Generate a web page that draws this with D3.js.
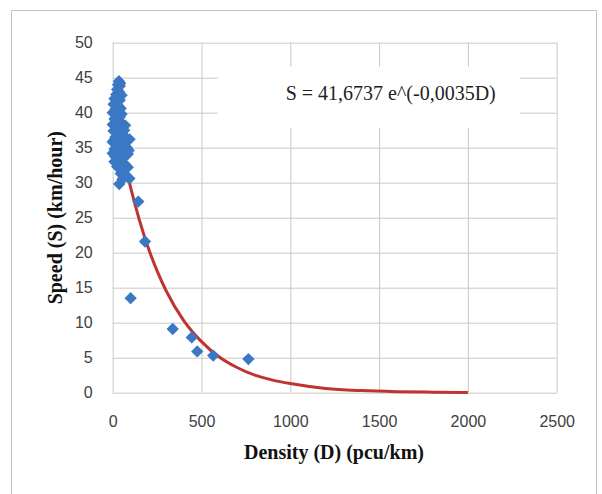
<!DOCTYPE html>
<html>
<head>
<meta charset="utf-8">
<script src="https://cdn.jsdelivr.net/npm/d3@7"></script>
<style>
  body { margin: 0; background: #fff; }
  .tick text { font-family: "Liberation Sans", Arial, sans-serif; font-size: 16px; fill: #404040; }
  .title { font-family: "Liberation Serif", "Times New Roman", serif; font-weight: bold; font-size: 20px; fill: #111; }
  .eq { font-family: "Liberation Serif", "Times New Roman", serif; font-size: 20px; fill: #222; }
</style>
</head>
<body>
<svg width="602" height="494"></svg>
<script>
// observed points, density (pcu/km) and speed (km/hour)
var densityD = [35, 30, 40, 25, 35, 20, 30, 10, 40, 25, 5, 35, 15, 30, 45, 0, 20, 40, 10, 30,
  50, 0, 20, 35, 5, 45, 25, 60, 15, 75, 35, 0, 55, 25, 80, 10, 45, 65, 0, 30,
  85, 15, 55, 40, 70, 25, 60, 45, 75, 55, 37, 94, 80, 50, 42, 5, 20, 65, 10, 50,
  95, 90, 70, 85, 144, 182, 101, 338, 445, 476, 566, 764];
var speedS = [44.5, 44.0, 43.8, 43.3, 43.0, 42.6, 42.2, 42.0, 41.8, 41.5, 41.2, 40.9, 40.5, 40.2, 40.6, 40.0, 39.7, 39.4, 39.1, 38.8,
  38.5, 38.3, 38.0, 37.7, 37.4, 37.2, 37.0, 36.8, 36.5, 36.3, 36.1, 35.8, 35.6, 35.3, 35.0, 34.8, 34.6, 34.3, 34.2, 34.0,
  34.1, 33.7, 33.4, 33.0, 32.6, 32.3, 31.8, 31.3, 31.0, 30.5, 29.8, 30.6, 36.0, 42.5, 44.2, 36.0, 35.0, 37.5, 33.0, 39.8,
  36.2, 34.6, 38.2, 32.2, 27.3, 21.6, 13.5, 9.1, 7.9, 5.9, 5.3, 4.8];

// exponential trendline
var trendD = [0, 50, 100, 150, 200, 250, 300, 400, 500, 600, 700, 800, 900, 1000, 1200, 1400, 1600, 1800, 2000];
var trendS = [41.7, 35.0, 29.4, 24.7, 20.7, 17.4, 14.6, 10.3, 7.3, 5.1, 3.6, 2.5, 1.8, 1.3, 0.6, 0.3, 0.15, 0.08, 0.04];

var xTicks = [0, 500, 1000, 1500, 2000, 2500];
var yTicks = [0, 5, 10, 15, 20, 25, 30, 35, 40, 45, 50];
var equationText = 'S = 41,6737 e^(-0,0035D)';
var xTitle = 'Density (D) (pcu/km)';
var yTitle = 'Speed (S) (km/hour)';

var svg = d3.select('svg');
var margin = {top: 42.7, left: 112.7};
var width = 444, height = 350;

// outer frame of the chart
svg.append('rect')
  .attr('x', 11.5).attr('y', 10.5)
  .attr('width', 585).attr('height', 495)
  .style('fill', 'none')
  .style('stroke', '#c4c4c4');

var x = d3.scaleLinear().domain([0, 2500]).range([0, width]);
var y = d3.scaleLinear().domain([0, 50]).range([height, 0]);

var g = svg.append('g')
  .attr('transform', 'translate(' + margin.left + ',' + margin.top + ')');

// grid lines (also serve as axes)
g.append('g')
  .attr('class', 'grid')
  .call(d3.axisLeft(y).tickValues(yTicks).tickSize(-width).tickFormat(''))
  .call(function(s) { s.select('.domain').remove(); })
  .selectAll('line').style('stroke', '#c8c8c8');

g.append('g')
  .attr('class', 'grid')
  .attr('transform', 'translate(0,' + height + ')')
  .call(d3.axisBottom(x).tickValues(xTicks).tickSize(-height).tickFormat(''))
  .call(function(s) { s.select('.domain').remove(); })
  .selectAll('line').style('stroke', '#c8c8c8');

// tick labels
g.append('g')
  .attr('transform', 'translate(-17,0)')
  .call(d3.axisLeft(y).tickValues(yTicks).tickSize(0).tickFormat(d3.format('d')))
  .call(function(s) { s.select('.domain').remove(); });

g.append('g')
  .attr('transform', 'translate(0,' + (height + 20) + ')')
  .call(d3.axisBottom(x).tickValues(xTicks).tickSize(0).tickFormat(d3.format('d')))
  .call(function(s) { s.select('.domain').remove(); });

// equation label box covers the grid
g.append('rect')
  .attr('x', 105).attr('y', 24)
  .attr('width', 302).attr('height', 61)
  .style('fill', '#fff');

g.append('text')
  .attr('class', 'eq')
  .attr('x', 278).attr('y', 57)
  .style('text-anchor', 'middle')
  .text(equationText);

// trendline
var line = d3.line()
  .x(function(d, i) { return x(trendD[i]); })
  .y(function(d) { return y(d); })
  .curve(d3.curveMonotoneX);

g.append('path')
  .datum(trendS)
  .attr('d', line)
  .style('fill', 'none')
  .style('stroke', '#bf3330')
  .style('stroke-width', 3);

// diamond markers
var diamond = d3.symbol().type(d3.symbolSquare).size(76);
g.selectAll('.pt')
  .data(speedS)
  .enter().append('path')
  .attr('class', 'pt')
  .attr('d', diamond)
  .attr('transform', function(d, i) { return 'translate(' + x(densityD[i]) + ',' + y(d) + ') rotate(45)'; })
  .style('fill', '#3b78c4');

// axis titles
svg.append('text')
  .attr('class', 'title')
  .attr('x', 334)
  .attr('y', 459)
  .style('text-anchor', 'middle')
  .text(xTitle);

svg.append('text')
  .attr('class', 'title')
  .attr('transform', 'translate(62,' + (margin.top + height / 2) + ') rotate(-90)')
  .style('text-anchor', 'middle')
  .text(yTitle);
</script>
</body>
</html>
